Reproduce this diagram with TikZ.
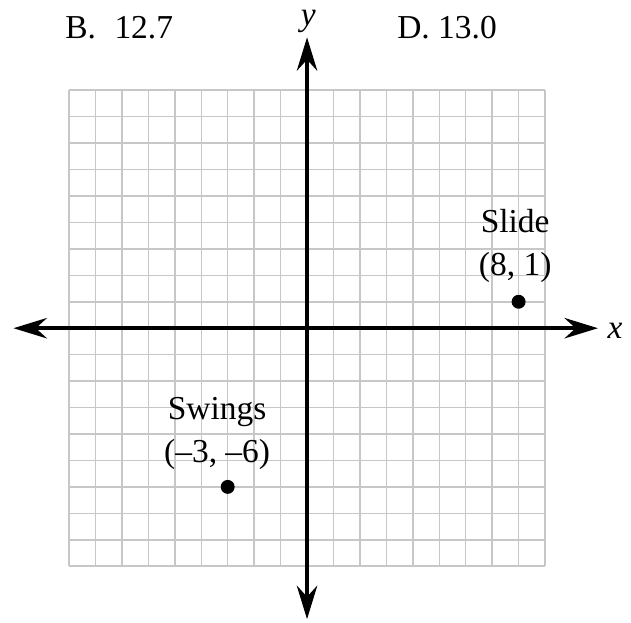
\documentclass[tikz,border=0pt]{standalone}
\usepackage{fontspec}
\setmainfont{Liberation Serif}
\usetikzlibrary{arrows.meta,positioning}

\begin{document}
\begin{tikzpicture}[x=0.5cm,y=0.5cm,
  every node/.style={font=\fontsize{18}{23}\selectfont},
  gridline/.style={black!22,line width=0.8pt},
  axis/.style={line width=1.9pt,{Stealth[length=18pt,width=11pt,inset=6pt]}-{Stealth[length=18pt,width=11pt,inset=6pt]}},
  spot/.style={circle,fill=black,inner sep=0pt,minimum size=7.5pt}]
  \useasboundingbox (-11.61,-11.12) rectangle (12.25,12.41);
  % grid
  \foreach \i in {-9,...,9} {
    \draw[gridline] (\i,-9) -- (\i,9);
    \draw[gridline] (-9,\i) -- (9,\i);
  }
  % axes
  \coordinate (xl) at (-11.1,0);
  \coordinate (xr) at (11.0,0);
  \coordinate (yb) at (0,-11.0);
  \coordinate (yt) at (0,11.0);
  \draw[axis] (xl) -- (xr);
  \draw[axis] (yb) -- (yt);
  \node[anchor=base,inner sep=0pt] (xlab) at (11.65,-0.38) {\itshape x};
  \node[anchor=base,inner sep=0pt] (ylab) at (0.05,11.46) {\itshape y};
  % answer choices
  \node[anchor=base west,inner sep=0pt] (choiceB) at (-9.15,10.97) {B.\hspace{0.55em}12.7};
  \node[anchor=base west,inner sep=0pt] (choiceD) at (3.40,10.97) {D. 13.0};
  % points
  \node[spot] (slide) at (8,1) {};
  \node[spot] (swings) at (-3,-6) {};
  \node[anchor=south,align=center,inner sep=0pt] (slidelab) at (7.87,1.70) {Slide\\(8, 1)};
  \node[anchor=south,align=center,inner sep=0pt] (swingslab) at (-3.40,-5.37) {Swings\\(--3, --6)};
\end{tikzpicture}
\end{document}
